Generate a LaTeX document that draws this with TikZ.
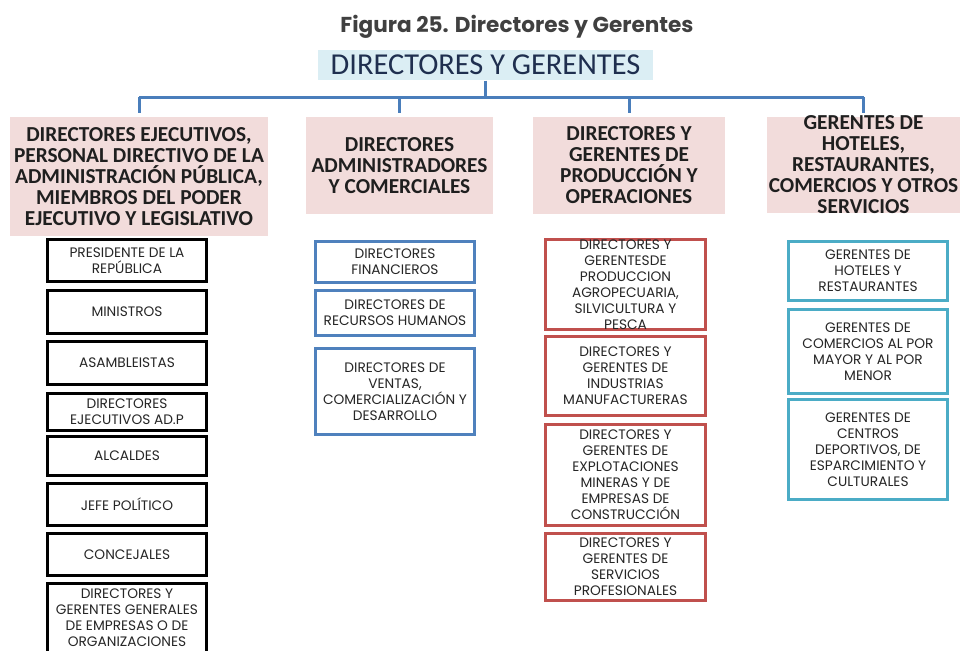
\documentclass[tikz,border=0pt]{standalone}
\usepackage{fontspec}
\setmainfont{Carlito}
\newfontfamily\carlito{Carlito}
\newfontfamily\poppins{Poppins}

\definecolor{titlegray}{HTML}{404040}
\definecolor{topblue}{HTML}{DBEEF4}
\definecolor{topink}{HTML}{1F2F4F}
\definecolor{busblue}{HTML}{4A7EBB}
\definecolor{hdrpink}{HTML}{F2DCDB}
\definecolor{subblue}{HTML}{4F81BD}
\definecolor{subred}{HTML}{C0504D}
\definecolor{subcyan}{HTML}{4BACC6}
\definecolor{subink}{HTML}{262626}

\tikzset{every picture/.style={line width=0.75pt}}
\tikzset{
  sz/.style 2 args={minimum width=#1*0.75pt, minimum height=#2*0.75pt},
  busline/.style={draw=busblue, line width=2.25pt},
  topbox/.style={fill=topblue, inner sep=0pt, text=topink,
    font=\carlito\fontsize{22.8}{24}\selectfont},
  hdr/.style={fill=hdrpink, inner sep=0pt, align=center, text=black!88,
    font=\carlito\bfseries\fontsize{16}{15.75}\selectfont},
  sub/.style={draw=#1, line width=2.25pt, fill=white, inner sep=0pt, align=center,
    text=subink, font=\poppins\fontsize{10.3}{12}\selectfont},
  subtext/.style={inner sep=0pt, align=center,
    text=subink, font=\poppins\fontsize{10.3}{12}\selectfont},
}

\begin{document}
\begin{tikzpicture}[x=0.75pt,y=0.75pt,yscale=-1,xscale=1]
\clip (0,0) rectangle (962,650);

% Title
\node [text=titlegray, font=\poppins\bfseries\fontsize{16.2}{18}\selectfont] (title) at (517,27) {Figura 25. Directores y Gerentes};

%Top box
\node [topbox, sz={335}{30}] (top) at (485.5,65) {DIRECTORES Y GERENTES};

%Header boxes
\node [hdr, sz={258}{119}] (c1) at (139,176.5) {DIRECTORES EJECUTIVOS,\\PERSONAL DIRECTIVO DE LA\\ADMINISTRACIÓN PÚBLICA,\\MIEMBROS DEL PODER\\EJECUTIVO Y LEGISLATIVO};
\node [hdr, sz={187}{97}] (c2) at (399.5,165.5) {DIRECTORES\\ADMINISTRADORES\\Y COMERCIALES};
\node [hdr, sz={192}{97}] (c3) at (629,165.5) {DIRECTORES Y\\GERENTES DE\\PRODUCCIÓN Y\\OPERACIONES};
\node [hdr, sz={193}{96}, inner ysep=-4pt] (c4) at (863.5,165) {GERENTES DE\\HOTELES,\\RESTAURANTES,\\COMERCIOS Y OTROS\\SERVICIOS};

%Connectors
\coordinate (bus) at (485.5,97);
\draw [busline] (top.south) -- (bus);
\draw [busline] (bus -| c1.north) -- (bus -| c4.north);
\foreach \n in {c1,c2,c3,c4}
  \draw [busline, shorten >=3pt] (bus -| \n.north) -- (\n.north);

%Column 1
\node [sub=black, sz={159}{42}] (c1a) at (127,260.5) {PRESIDENTE DE LA\\REPÚBLICA};
\node [sub=black, sz={159}{43}] (c1b) at (127,312) {MINISTROS};
\node [sub=black, sz={159}{43}] (c1c) at (127,363) {ASAMBLEISTAS};
\node [sub=black, sz={159}{37}] (c1d) at (127,412) {DIRECTORES\\EJECUTIVOS AD.P};
\node [sub=black, sz={159}{39}] (c1e) at (127,456) {ALCALDES};
\node [sub=black, sz={159}{42}] (c1f) at (127,504.5) {JEFE POLÍTICO};
\node [sub=black, sz={159}{42}] (c1g) at (127,554.5) {CONCEJALES};
% last box runs past the bottom edge
\node [sub=black, sz={159}{90}, anchor=north] (c1h) at (127,581.5) {};
\node [subtext] (c1ht) at (127,617.5) {DIRECTORES Y\\GERENTES GENERALES\\DE EMPRESAS O DE\\ORGANIZACIONES};

%Column 2
\node [sub=subblue, sz={159}{41}] (c2a) at (395,262) {DIRECTORES\\FINANCIEROS};
\node [sub=subblue, sz={159}{45}] (c2b) at (395,313) {DIRECTORES DE\\RECURSOS HUMANOS};
\node [sub=subblue, sz={159}{86}] (c2c) at (395,391.5) {DIRECTORES DE\\VENTAS,\\COMERCIALIZACIÓN Y\\DESARROLLO};

%Column 3
\node [sub=subred, sz={160}{90}, inner ysep=-4pt] (c3a) at (625.5,284.5) {DIRECTORES Y\\GERENTESDE\\PRODUCCION\\AGROPECUARIA,\\SILVICULTURA Y\\PESCA};
\node [sub=subred, sz={160}{79}] (c3b) at (625.5,376) {DIRECTORES Y\\GERENTES DE\\INDUSTRIAS\\MANUFACTURERAS};
\node [sub=subred, sz={160}{101}] (c3c) at (625.5,475) {DIRECTORES Y\\GERENTES DE\\EXPLOTACIONES\\MINERAS Y DE\\EMPRESAS DE\\CONSTRUCCIÓN};
\node [sub=subred, sz={160}{67}] (c3d) at (625.5,567) {DIRECTORES Y\\GERENTES DE\\SERVICIOS\\PROFESIONALES};

%Column 4
\node [sub=subcyan, sz={159}{59}] (c4a) at (868,271) {GERENTES DE\\HOTELES Y\\RESTAURANTES};
\node [sub=subcyan, sz={159}{84}] (c4b) at (868,351.5) {GERENTES DE\\COMERCIOS AL POR\\MAYOR Y AL POR\\MENOR};
\node [sub=subcyan, sz={159}{100}] (c4c) at (868,449.5) {GERENTES DE\\CENTROS\\DEPORTIVOS, DE\\ESPARCIMIENTO Y\\CULTURALES};

\end{tikzpicture}
\end{document}
